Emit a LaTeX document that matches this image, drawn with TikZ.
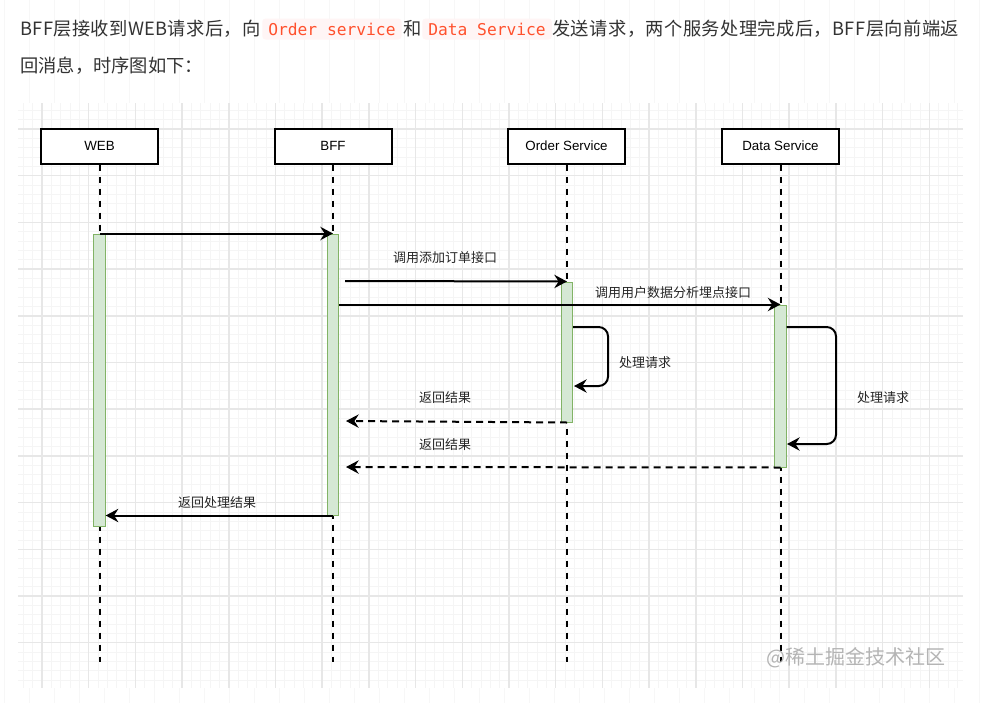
\documentclass[tikz,border=0pt]{standalone}
\usepackage{fontspec}
\setmainfont{Noto Sans CJK SC}
\newfontfamily\latinsans{Liberation Sans}
\newfontfamily\codefont{DejaVu Sans Mono}
\newfontfamily\spreadA[LetterSpace=2]{Noto Sans CJK SC}
\newfontfamily\spreadB[LetterSpace=2.3]{Noto Sans CJK SC}
\usetikzlibrary{arrows.meta}

\definecolor{pagegrid}{HTML}{F7F7F7}
\definecolor{gridmajor}{HTML}{E7E7E7}
\definecolor{gridminor}{HTML}{F5F5F5}
\definecolor{bodytext}{HTML}{333333}
\definecolor{codered}{HTML}{FF502C}
\definecolor{codebg}{HTML}{FFF5F5}
\definecolor{actfill}{HTML}{D5E8D4}
\definecolor{actdraw}{HTML}{82B366}
\definecolor{marktext}{HTML}{B4B4B4}

\tikzset{
  para/.style={anchor=west, inner sep=0pt, text=bodytext, font=\fontsize{13.7pt}{16pt}\selectfont},
  codebox/.style={anchor=west, fill=codebg, rounded corners=2.5pt, inner xsep=4.5pt, inner ysep=0pt,
    minimum height=15.75pt, text=codered, font=\codefont\fontsize{12.2pt}{14pt}\selectfont},
  actor/.style={draw=black, line width=1.5pt, fill=white, minimum width=87.75pt, minimum height=26.25pt,
    inner sep=0pt, font=\latinsans\fontsize{10pt}{12pt}\selectfont},
  lifeline/.style={draw=black, line width=1.5pt, dash pattern=on 5pt off 4pt},
  actbar/.style={draw=actdraw, line width=0.75pt, fill=actfill, minimum width=8.5pt, inner sep=0pt},
  msg/.style={draw=black, line width=1.5pt, -{Stealth[length=9.5pt, width=10pt, inset=3.2pt]}},
  reply/.style={msg, dash pattern=on 5.25pt off 3.75pt},
  lbl/.style={inner sep=0pt, text=black!85, font=\fontsize{9.75pt}{12pt}\selectfont},
}

\begin{document}
\begin{tikzpicture}[x=0.75pt, y=-0.75pt]
\useasboundingbox (0,0) rectangle (995,703);
\fill[white] (0,0) rectangle (995,703);

% page background grid
\foreach \i in {0,...,39}
  \draw[pagegrid, line width=0.6pt] ({4+25*\i},0) -- ({4+25*\i},703);

% canvas with minor and major grid
\begin{scope}
  \clip (18,103) rectangle (963,688);
  \fill[white] (18,103) rectangle (963,688);
  \foreach \i in {-3,...,102}
    \draw[gridminor, line width=0.6pt] ({42+9.34*\i},103) -- ({42+9.34*\i},688);
  \foreach \j in {-3,...,60}
    \draw[gridminor, line width=0.6pt] (18,{129+9.34*\j}) -- (963,{129+9.34*\j});
  \foreach \i in {-1,...,20}
    \draw[gridmajor, line width=1.1pt] ({42+46.7*\i},103) -- ({42+46.7*\i},688);
  \foreach \j in {-1,...,12}
    \draw[gridmajor, line width=1.1pt] (18,{129+46.7*\j}) -- (963,{129+46.7*\j});
\end{scope}

% intro paragraph
\node[para, font=\spreadA\fontsize{13.7pt}{16pt}\selectfont] (p1) at (20,29) {BFF层接收到WEB请求后，向};
\node[codebox] (c1) at (262,29) {Order service};
\node[para] (p2) at (403,29) {和};
\node[codebox] (c2) at (422,29) {Data Service};
\node[para, font=\spreadB\fontsize{13.7pt}{16pt}\selectfont] (p3) at (552,29) {发送请求，两个服务处理完成后，BFF层向前端返};
\node[para] (p4) at (20,66) {回消息，时序图如下：};

% participants
\node[actor] (web)   at (99.5,146)  {WEB};
\node[actor] (bff)   at (333,146)   {BFF};
\node[actor] (order) at (566.5,146) {Order Service};
\node[actor] (data)  at (780.5,146) {Data Service};

% lifelines
\coordinate (webend)   at (99.5,662);
\coordinate (bffend)   at (333,662);
\coordinate (orderend) at (566.5,662);
\coordinate (dataend)  at (780.5,662);
\draw[lifeline] (web.south)   -- (webend);
\draw[lifeline] (bff.south)   -- (bffend);
\draw[lifeline] (order.south) -- (orderend);
\draw[lifeline] (data.south)  -- (dataend);

% activation bars
\node[actbar, minimum height=219pt]  (webact)   at (99.5,380)  {};
\node[actbar, minimum height=210.75pt] (bffact) at (333,374.5) {};
\node[actbar, minimum height=105pt]  (orderact) at (567,352)   {};
\node[actbar, minimum height=121.5pt] (dataact) at (780.5,386) {};

% WEB -> BFF
\draw[msg] (webact.north) -- (bffact.north);

% BFF -> Order Service
\coordinate (callorder) at (345,281);
\draw[msg] (callorder) -- (orderact.north);
\node[lbl] (callorderlbl) at (445,258) {调用添加订单接口};

% BFF -> Data Service
\draw[msg] (bffact.east |- dataact.north) -- (dataact.north);
\node[lbl] (calldatalbl) at (673,293) {调用用户数据分析埋点接口};

% Order Service self call
\coordinate (oloopa) at (573,327);
\coordinate (oloopb) at (574,386);
\draw[msg, rounded corners=7pt] (oloopa) -- (608,327) -- (608,386) -- (oloopb);
\node[lbl] (oprocess) at (645,363) {处理请求};

% Data Service self call
\coordinate (dloopa) at (786.5,327);
\coordinate (dloopb) at (787,444);
\draw[msg, rounded corners=7pt] (dloopa) -- (836,327) -- (836,444) -- (dloopb);
\node[lbl] (dprocess) at (883,398) {处理请求};

% replies to BFF
\coordinate (orderret) at (346,421);
\draw[reply] (orderact.south) -- (orderret);
\node[lbl] (orderretlbl) at (445,398) {返回结果};
\coordinate (dataret) at (346,467);
\draw[reply] (dataact.south) -- (dataret);
\node[lbl] (dataretlbl) at (445,445) {返回结果};

% BFF -> WEB
\draw[msg] (bffact.south) -- (webact.east |- bffact.south);
\node[lbl] (webretlbl) at (217,503) {返回处理结果};

% watermark
\node[inner sep=0pt, text=marktext, font=\fontsize{15pt}{17pt}\selectfont] (mark) at (856,658) {@稀土掘金技术社区};
\end{tikzpicture}
\end{document}
